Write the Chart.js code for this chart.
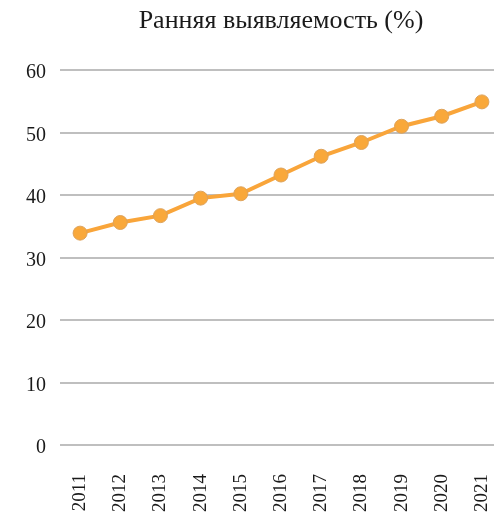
<!DOCTYPE html>
<html>
<head>
<meta charset="utf-8">
<script src="https://cdn.jsdelivr.net/npm/chart.js@4"></script>
<style>
    html, body { margin: 0; padding: 0; background: #fff; overflow: hidden; }
    #wrap { width: 510px; height: 517px; }
</style>
</head>
<body>
<div id="wrap"><canvas id="chart" width="510" height="517"></canvas></div>
<script>
// Ранняя выявляемость (%) по годам
const years = ['2011', '2012', '2013', '2014', '2015', '2016', '2017', '2018', '2019', '2020', '2021'];
const earlyDetection = [33.9, 35.6, 36.7, 39.5, 40.2, 43.2, 46.2, 48.4, 51.0, 52.6, 54.9];
const yTicks = [0, 10, 20, 30, 40, 50, 60];

const FONT = "'Liberation Serif', 'Times New Roman', serif";

const ctx = document.getElementById('chart').getContext('2d');
new Chart(ctx, {
    type: 'line',
    data: {
        labels: years,
        datasets: [{
            label: 'Ранняя выявляемость (%)',
            data: earlyDetection,
            borderColor: '#F9A53A',
            borderWidth: 4,
            pointRadius: 7,
            pointBackgroundColor: '#F9A83A',
            pointBorderColor: '#DDA25A',
            pointBorderWidth: 1,
            tension: 0
        }]
    },
    options: {
        responsive: false,
        animation: false,
        layout: { padding: 0 },
        plugins: {
            legend: { display: false },
            tooltip: { enabled: false },
            title: {
                display: true,
                text: 'Ранняя выявляемость (%)',
                fullSize: false,
                color: '#1a1a1a',
                font: { family: FONT, size: 26, weight: 'normal' },
                padding: { top: 6, bottom: 32.8 }
            }
        },
        scales: {
            x: {
                offset: true,
                grid: { display: false, drawTicks: false },
                border: { display: false },
                ticks: {
                    color: '#1a1a1a',
                    font: { family: FONT, size: 19 },
                    minRotation: 90,
                    maxRotation: 90,
                    padding: 29,
                    autoSkip: false
                },
                afterFit: (scale) => {
                    scale.height = 72;
                    // без запаса под крайние подписи: сетка идёт до края
                    scale.paddingLeft = 0;
                    scale.paddingRight = 0;
                }
            },
            y: {
                min: 0,
                max: 60,
                afterBuildTicks: (scale) => { scale.ticks = yTicks.map(v => ({ value: v })); },
                grid: { color: '#BFBFBF', lineWidth: 2, drawTicks: false },
                border: { display: false },
                ticks: {
                    color: '#1a1a1a',
                    font: { family: FONT, size: 20 },
                    padding: 14,
                    labelOffset: 3
                },
                afterFit: (scale) => { scale.width = 60; }
            }
        }
    }
});
</script>
</body>
</html>
